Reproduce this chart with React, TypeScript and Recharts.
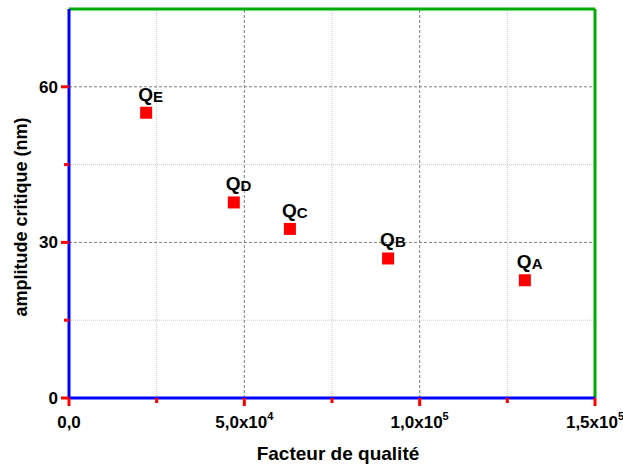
import { ScatterChart, Scatter, XAxis, YAxis, ReferenceLine } from "recharts"

const qualityFactor = [22000, 47000, 63000, 91000, 130000]
const criticalAmplitude = [55.0, 37.7, 32.6, 26.9, 22.7]
const sampleNames = ["E", "D", "C", "B", "A"]

const xTicks = [0, 25000, 50000, 75000, 100000, 125000, 150000]
const xMajorTicks = [0, 50000, 100000, 150000]
const xTickLabels = [
  { base: "0,0", exp: "" },
  { base: "5,0x10", exp: "4" },
  { base: "1,0x10", exp: "5" },
  { base: "1,5x10", exp: "5" },
]
const yTicks = [0, 15, 30, 45, 60]
const yMajorTicks = [0, 30, 60]
const xMinorGrid = [25000, 75000, 125000]
const xMajorGrid = [50000, 100000]
const yMinorGrid = [15, 45]
const yMajorGrid = [30, 60]

const X_MAX = 150000
const Y_MAX = 75

const FONT = "'Liberation Sans', Arial, Helvetica, sans-serif"

const points = qualityFactor.map((q, i) => ({
  q,
  a: criticalAmplitude[i],
  name: sampleNames[i],
}))

function BottomTick(props: any) {
  const { x, y, payload } = props
  const idx = xMajorTicks.indexOf(payload.value)
  const lbl = idx >= 0 ? xTickLabels[idx] : null
  return (
    <g>
      <rect x={x - 1.5} y={y} width={3} height={lbl ? 8 : 5} fill="#f00" />
      {lbl && (
        <text x={x} y={y + 30} textAnchor="middle" fontFamily={FONT} fontWeight="bold" fontSize={17} fill="#000">
          <tspan>{lbl.base}</tspan>
          {lbl.exp && (
            <tspan dy={-8} fontSize={11}>
              {lbl.exp}
            </tspan>
          )}
        </text>
      )}
    </g>
  )
}

function LeftTick(props: any) {
  const { x, y, payload } = props
  const major = yMajorTicks.includes(payload.value)
  const len = major ? 8 : 5
  return (
    <g>
      <rect x={x - len} y={y - 1.5} width={len} height={3} fill="#f00" />
      {major && (
        <text x={x - 11} y={y + 6} textAnchor="end" fontFamily={FONT} fontWeight="bold" fontSize={17} fill="#000">
          {payload.value}
        </text>
      )}
    </g>
  )
}

function SampleMarker(props: any) {
  const { cx, cy, payload } = props
  return (
    <g>
      <rect x={cx - 6} y={cy - 6} width={12} height={12} fill="#ff0000" />
      <text x={cx - 8} y={cy - 12} fontFamily={FONT} fontWeight="bold" fontSize={19} fill="#000">
        <tspan>Q</tspan>
        <tspan dy={1} fontSize={15}>
          {payload.name}
        </tspan>
      </text>
    </g>
  )
}

const titleStyle = {
  position: "absolute" as const,
  fontFamily: FONT,
  fontWeight: "bold" as const,
  fontSize: 19,
  color: "#000",
  whiteSpace: "nowrap" as const,
  lineHeight: "20px",
}

export default function App() {
  return (
    <div style={{ position: "absolute", left: 0, top: 0, width: 623, height: 466, background: "#fff" }}>
      <ScatterChart width={623} height={466} margin={{ top: 9, right: 28, bottom: 0, left: 0 }}>
        <XAxis
          dataKey="q"
          type="number"
          domain={[0, X_MAX]}
          ticks={xTicks}
          interval={0}
          height={68}
          tickSize={0}
          tickMargin={0}
          tickLine={false}
          axisLine={{ stroke: "#00f", strokeWidth: 3 }}
          tick={<BottomTick />}
        />
        <YAxis
          dataKey="a"
          type="number"
          domain={[0, Y_MAX]}
          ticks={yTicks}
          width={69}
          tickSize={0}
          tickMargin={0}
          tickLine={false}
          axisLine={{ stroke: "#00f", strokeWidth: 3 }}
          tick={<LeftTick />}
        />

        {xMinorGrid.map((v) => (
          <ReferenceLine key={`vx${v}`} x={v} stroke="#c8c8c8" strokeDasharray="1 1" />
        ))}
        {xMajorGrid.map((v) => (
          <ReferenceLine key={`vX${v}`} x={v} stroke="#808080" strokeDasharray="3 2" />
        ))}
        {yMinorGrid.map((v) => (
          <ReferenceLine key={`hy${v}`} y={v} stroke="#c8c8c8" strokeDasharray="1 1" />
        ))}
        {yMajorGrid.map((v) => (
          <ReferenceLine key={`hY${v}`} y={v} stroke="#808080" strokeDasharray="3 2" />
        ))}

        <ReferenceLine x={X_MAX} ifOverflow="visible" stroke="#0a0" strokeWidth={3} />
        <ReferenceLine y={Y_MAX} ifOverflow="visible" stroke="#0a0" strokeWidth={3} />

        <Scatter data={points} shape={<SampleMarker />} isAnimationActive={false} />
      </ScatterChart>
      <div style={{ ...titleStyle, left: 338, top: 444, transform: "translateX(-50%)" }}>Facteur de qualité</div>
      <div
        style={{
          ...titleStyle,
          fontSize: 18,
          left: 21,
          top: 217,
          transform: "translate(-50%, -50%) rotate(-90deg)",
        }}
      >
        amplitude critique (nm)
      </div>
    </div>
  )
}
